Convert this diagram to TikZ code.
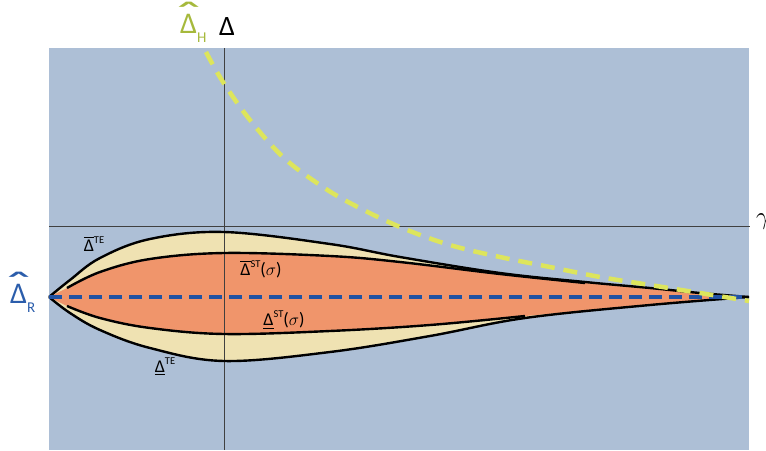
\documentclass[tikz,border=0pt]{standalone}
\usepackage{amsmath}
\usepackage{fontspec}
\setmainfont{Carlito}
\definecolor{bgblue}{HTML}{ADBFD6}
\definecolor{cream}{HTML}{EFE2B2}
\definecolor{orng}{HTML}{F0956B}
\definecolor{yelw}{HTML}{DDE55C}
\definecolor{dblue}{HTML}{2152A3}
\definecolor{lgreen}{HTML}{A6B93C}
\definecolor{lblue}{HTML}{2B5DAB}
\newcommand\supx[1]{\raisebox{0.42em}{\fontsize{10.5}{11}\selectfont #1}}
\newcommand\hatD{\ooalign{Δ\cr\hidewidth\raisebox{0.08em}{\scalebox{2.3}[1.4]{\char"02C6}}\hidewidth\cr}}
\newcommand\subx[1]{\raisebox{-0.31em}{\fontsize{15}{15}\selectfont$\mathrm{#1}$}}
\begin{document}
\begin{tikzpicture}[x=1pt,y=-1pt,
  axisline/.style={line width=0.8pt,draw=black!75},
  curve/.style={line width=2.4pt,draw=black},
  lbl/.style={inner sep=0pt,font=\fontsize{18}{20}\selectfont},
  biglbl/.style={inner sep=0pt,font=\fontsize{30}{30}\selectfont}]
\useasboundingbox (0,0) rectangle (766,450);
\fill[bgblue] (49,48) rectangle (749,450);
\coordinate (L) at (49,297);
\coordinate (R) at (749,297);
% outer (TE) region
\fill[cream] plot[smooth,tension=0.6] coordinates {(49,297) (70,280) (100,258) (150,239) (224,232) (330,244) (400,257) (500,273) (585,282) (650,288) (700,293) (749,297)}
  -- plot[smooth,tension=0.6] coordinates {(749,297) (650,305) (525,318) (430,336) (330,352) (224,361) (150,348) (100,330) (70,313) (49,297)} -- cycle;
% inner (ST) region
\fill[orng] (49,297) -- plot[smooth,tension=0.6] coordinates {(67,288) (100,272) (150,259) (224,253) (330,256) (400,262) (500,274) (585,283) (650,288) (700,293) (749,297)}
  -- plot[smooth,tension=0.6] coordinates {(749,297) (650,305) (525,316) (430,325) (330,331) (224,334) (150,328) (100,318) (67,306)} -- cycle;
% axes
\coordinate (xa0) at (49,226);
\coordinate (xa1) at (750,226);
\coordinate (ya0) at (224,48);
\coordinate (ya1) at (224,450);
\draw[axisline] (xa0) -- (xa1);
\draw[axisline] (ya0) -- (ya1);
% outer curves
\draw[curve] plot[smooth,tension=0.6] coordinates {(49,297) (70,280) (100,258) (150,239) (224,232) (330,244) (400,257) (500,273) (585,282) (650,288) (700,293) (749,297)};
\draw[curve] plot[smooth,tension=0.6] coordinates {(749,297) (650,305) (525,318) (430,336) (330,352) (224,361) (150,348) (100,330) (70,313) (49,297)};
% inner curves
\draw[curve] plot[smooth,tension=0.6] coordinates {(67,288) (100,272) (150,259) (224,253) (330,256) (400,262) (500,274) (585,283)};
\draw[curve] plot[smooth,tension=0.6] coordinates {(67,306) (100,318) (150,328) (224,334) (330,331) (430,325) (525,316)};
% blue dashed
\draw[dblue,line width=4pt,dash pattern=on 13pt off 7pt] (L) -- (R);
% yellow dashed
\draw[yelw,line width=4.5pt,dash pattern=on 14pt off 9pt] plot[smooth,tension=0.6] coordinates {(206,52) (223,82) (250,120) (283,157) (317,183) (350,203) (400,227) (450,245) (500,257) (550,267) (600,277) (650,285) (700,293) (749,301)};
% labels
\node[lbl] (dte) at (94,244) {$\overline{\mbox{Δ}}$\supx{TE}};
\node[lbl] (dst) at (261,269) {$\overline{\mbox{Δ}}$\supx{ST}($\sigma$)};
\node[lbl] (ust) at (284,320) {$\underline{\mbox{Δ}}$\supx{ST}($\sigma$)};
\node[lbl] (ute) at (165,367) {$\underline{\mbox{Δ}}$\supx{TE}};
\node[biglbl,text=lblue,anchor=base west] (dr) at (10,303) {\hatD\subx{R}};
\node[biglbl,text=lgreen,anchor=base west] (dh) at (180,33) {\hatD\subx{H}};
\node[font=\fontsize{28}{28}\selectfont,inner sep=0pt,anchor=base west] (dy) at (219,35) {Δ};
\node[font=\fontsize{26}{28}\selectfont,inner sep=0pt,anchor=west] (gam) at (756,222) {$\gamma$};
\end{tikzpicture}
\end{document}
